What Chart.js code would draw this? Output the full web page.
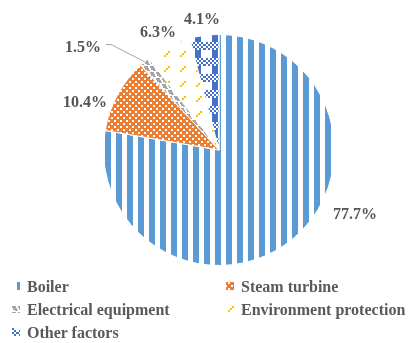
<!DOCTYPE html>
<html>
<head>
<meta charset="utf-8">
<script src="https://cdn.jsdelivr.net/npm/chart.js@4.4.1/dist/chart.umd.min.js"></script>
<style>
  body { margin:0; background:#fff; }
  #wrap { position:relative; width:409px; height:343px; overflow:hidden; }
  #myPieChart { position:absolute; left:0; top:0; }
  .item { position:absolute; font:bold 16px "Liberation Serif", "Times New Roman", serif; color:#595959; line-height:16px; white-space:nowrap; }
  .sw { position:absolute; }
</style>
</head>
<body>
<div id="wrap">
  <canvas id="myPieChart" width="409" height="343"></canvas>
  <div id="legend"></div>
</div>
<script>
  const categories = ["Boiler", "Steam turbine", "Electrical equipment", "Environment protection", "Other factors"];
  const shares = [77.7, 10.4, 1.5, 6.3, 4.1];
  const baseColors = ['#5B9BD5', '#ED7D31', '#A5A5A5', '#FFC000', '#4472C4'];

  // where each percentage sits, relative to the pie centre
  const labelOffsets = [[136, 63], [-134, -49], [-136, -104], [-61, -119], [-17, -132]];

  function tile(w, h, draw) {
    let c = document.createElement('canvas');
    c.width = w; c.height = h;
    let g = c.getContext('2d');
    g.fillStyle = '#fff';
    g.fillRect(0, 0, w, h);
    draw(g);
    return c;
  }

  let tiles = [
    // wide vertical stripes
    tile(11, 4, g => { g.fillStyle = baseColors[0]; g.fillRect(6, 0, 5, 4); g.fillRect(0, 0, 1, 4); }),
    // small confetti
    tile(6, 6, g => { g.fillStyle = baseColors[1]; g.fillRect(0, 0, 6, 6); g.fillStyle = '#fff'; g.fillRect(0, 0, 2, 2); g.fillRect(3, 3, 2, 2); }),
    // dashed downward diagonal, heavy
    tile(6, 6, g => { g.fillStyle = baseColors[2]; g.fillRect(0, 0, 4, 2); g.fillRect(1, 2, 4, 2); g.fillRect(3, 4, 3, 1); }),
    // dashed upward diagonal, sparse
    tile(16, 15, g => {
      g.fillStyle = baseColors[3];
      for (let k = 0; k < 3; k++) g.fillRect(4 + k * 2, 10 - k * 2, 2, 2);
    }),
    // plaid
    tile(17, 16, g => {
      g.fillStyle = baseColors[4];
      g.fillRect(8, 0, 6, 16);
      g.fillStyle = '#fff';
      g.fillRect(0, 10, 17, 6); g.fillRect(0, 0, 17, 2);
      g.fillStyle = baseColors[4];
      for (let y of [10, 12, 14, 0])
        for (let x = 0; x < 17; x += 2)
          if (((x + y) / 2) % 2 === 0) g.fillRect(x, y, 2, 2);
    })
  ];

  let ctx = document.getElementById("myPieChart").getContext('2d');
  let patterns = tiles.map(t => ctx.createPattern(t, 'repeat'));

  const pieLabels = {
    id: 'pieLabels',
    afterDatasetsDraw(chart) {
      let c = chart.ctx;
      let meta = chart.getDatasetMeta(0);
      let cx = meta.data[0].x, cy = meta.data[0].y;
      c.save();
      c.font = 'bold 16px "Liberation Serif"';
      c.fillStyle = '#555555';
      c.textAlign = 'center';
      c.textBaseline = 'alphabetic';
      meta.data.forEach((arc, i) => {
        c.fillText(shares[i].toFixed(1) + '%', cx + labelOffsets[i][0], cy + labelOffsets[i][1] + 5.5);
      });
      // leader line for the thin slice
      let a = meta.data[2];
      let mid = (a.startAngle + a.endAngle) / 2;
      let ex = a.x + a.outerRadius * Math.cos(mid), ey = a.y + a.outerRadius * Math.sin(mid);
      let tx = cx + labelOffsets[2][0] + 23, ty = cy + labelOffsets[2][1] - 1.5;
      c.strokeStyle = '#A6A6A6';
      c.lineWidth = 1;
      c.beginPath();
      c.moveTo(tx, ty); c.lineTo(tx + 5, ty); c.lineTo(ex, ey);
      c.stroke();
      c.restore();
    }
  };

  let myPieChart = new Chart(ctx, {
    type: 'pie',
    data: {
      labels: categories,
      datasets: [{
        data: shares,
        backgroundColor: patterns,
        borderColor: '#fff',
        borderWidth: 1
      }]
    },
    options: {
      responsive: false,
      animation: false,
      layout: { padding: { left: 103, right: 74, top: 34, bottom: 77 } },
      plugins: {
        legend: { display: false },
        tooltip: { enabled: false }
      }
    },
    plugins: [pieLabels]
  });

  // legend in two columns
  let legend = document.getElementById('legend');
  categories.forEach((name, i) => {
    let col = i % 2, row = Math.floor(i / 2);
    let sx = col ? 226 : 12, sy = 282 + row * 23;
    let sw = document.createElement('canvas');
    sw.width = 8; sw.height = 8;
    sw.className = 'sw';
    sw.style.left = sx + 'px'; sw.style.top = sy + 'px';
    let g = sw.getContext('2d');
    g.translate(-sx, -sy);
    g.fillStyle = g.createPattern(tiles[i], 'repeat');
    g.fillRect(sx, sy, 8, 8);
    legend.appendChild(sw);
    let t = document.createElement('div');
    t.className = 'item';
    t.textContent = name;
    t.style.left = (col ? 241 : 27) + 'px';
    t.style.top = (279 + row * 23) + 'px';
    legend.appendChild(t);
  });
</script>
</body>
</html>
